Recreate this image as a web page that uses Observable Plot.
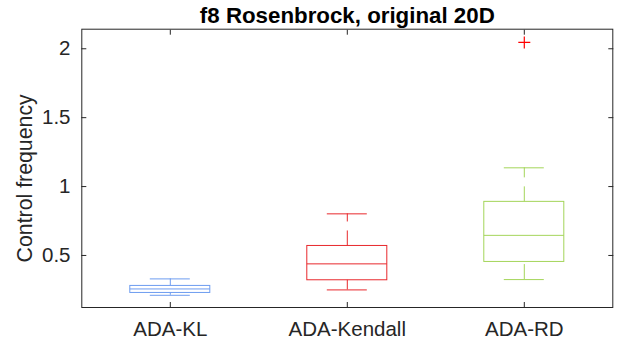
<!DOCTYPE html>
<html><head><meta charset="utf-8">
<script src="https://cdn.jsdelivr.net/npm/d3@7"></script>
<script src="https://cdn.jsdelivr.net/npm/@observablehq/plot@0.6"></script>
<style>body{margin:0;background:#fff} svg{display:block}</style>
</head><body><div id="chart"></div>
<script>
const title = "f8 Rosenbrock, original 20D";
const yLabel = "Control frequency";
const categories = ["ADA-KL", "ADA-Kendall", "ADA-RD"];
const lowerWhisker = [0.211, 0.250, 0.325];
const q1 = [0.228, 0.320, 0.453];
const median = [0.257, 0.439, 0.646];
const q3 = [0.279, 0.569, 0.889];
const upperWhisker = [0.330, 0.802, 1.136];
const outlierCategory = ["ADA-RD"];
const outlierValue = [2.046];
const colors = ["#6d9cf0", "#e8282c", "#a4d55a"];
const yTicks = [0.5, 1, 1.5, 2];

const rows = categories.map((c, i) => ({
  pos: i + 1, cat: c, lo: lowerWhisker[i], q1: q1[i], med: median[i], q3: q3[i], hi: upperWhisker[i], color: colors[i]
}));
const outliers = outlierCategory.map((c, i) => ({pos: categories.indexOf(c) + 1, value: outlierValue[i]}));
const halfBox = 0.226, halfCap = 0.113;
const thinPlus = {draw(ctx, size) { const r = Math.sqrt(size / Math.PI); ctx.moveTo(-r, 0); ctx.lineTo(r, 0); ctx.moveTo(0, -r); ctx.lineTo(0, r); }};
const ink = "#262626";

const plot = Plot.plot({
  width: 620, height: 345,
  marginLeft: 81.3, marginRight: 7.7, marginTop: 28.7, marginBottom: 38,
  style: {fontFamily: "'Liberation Sans', Arial, Helvetica, sans-serif", background: "#fff", color: ink},
  x: {type: "linear", domain: [0.5, 3.5]},
  y: {domain: [0.1224, 2.142]},
  marks: [
    Plot.axisY({anchor: "left", ticks: yTicks, tickSize: -5, tickPadding: 16.3, fontSize: 20.5, label: null, tickFormat: d => String(d)}),
    Plot.axisY({anchor: "right", ticks: yTicks, tickSize: -5, tickFormat: () => "", label: null}),
    Plot.axisX({anchor: "bottom", ticks: [1, 2, 3], tickSize: -5, tickPadding: 18.7, fontSize: 20.5, label: null, tickFormat: i => categories[i - 1]}),
    Plot.axisX({anchor: "top", ticks: [1, 2, 3], tickSize: -5, tickFormat: () => "", label: null}),
    Plot.frame({stroke: ink}),
    Plot.ruleX(rows, {x: "pos", y1: "q3", y2: "hi", stroke: "color", strokeDasharray: "15,9"}),
    Plot.ruleX(rows, {x: "pos", y1: "lo", y2: "q1", stroke: "color", strokeDasharray: "15,9"}),
    Plot.ruleY(rows, {y: "hi", x1: d => d.pos - halfCap, x2: d => d.pos + halfCap, stroke: "color"}),
    Plot.ruleY(rows, {y: "lo", x1: d => d.pos - halfCap, x2: d => d.pos + halfCap, stroke: "color"}),
    Plot.rect(rows, {x1: d => d.pos - halfBox, x2: d => d.pos + halfBox, y1: "q1", y2: "q3", fill: "none", stroke: "color"}),
    Plot.ruleY(rows, {y: "med", x1: d => d.pos - halfBox, x2: d => d.pos + halfBox, stroke: "color"}),
    Plot.dot(outliers, {x: "pos", y: "value", symbol: thinPlus, r: 6, stroke: "#ff0000", fill: "none", strokeWidth: 1.2}),
    Plot.text([title], {frameAnchor: "top", lineAnchor: "bottom", dy: -6, fontSize: 22.3, fontWeight: "bold", fill: "#000"}),
    Plot.text([yLabel], {frameAnchor: "left", rotate: -90, dx: -57, dy: 10, textAnchor: "middle", lineAnchor: "middle", fontSize: 21.3, fill: ink})
  ]
});
document.getElementById("chart").appendChild(plot);
</script>
</body></html>
